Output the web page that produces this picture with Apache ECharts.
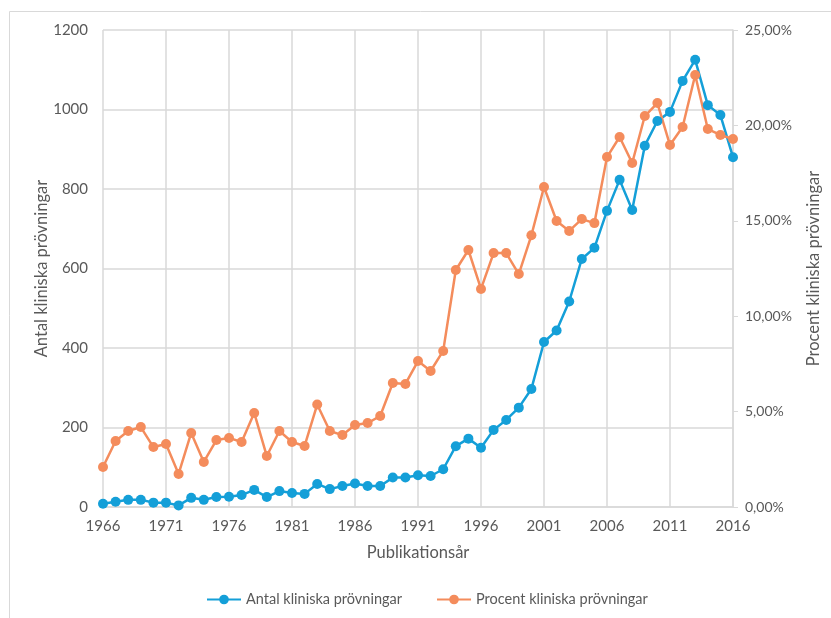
<!DOCTYPE html>
<html>
<head>
<meta charset="utf-8">
<script src="https://cdn.jsdelivr.net/npm/echarts@6/dist/echarts.min.js"></script>
<style>
  html, body { margin: 0; padding: 0; background: #fff; }
  #chart { width: 831px; height: 618px; }
</style>
</head>
<body>
<div id="chart"></div>
<script>
// årtal 1966-2016
var years = [];
for (var y = 1966; y <= 2016; y++) years.push(String(y));

var antal = [8, 13, 18, 18, 11, 11, 4, 23, 18, 25, 26, 30, 43, 25, 40, 35, 33, 58, 45, 53,
  59, 53, 53, 74, 74, 80, 78, 95, 153, 172, 149, 194, 219, 250, 297,
  415, 444, 517, 624, 652, 745, 823, 747, 909, 971, 994, 1072, 1125, 1011, 986, 880];

var procent = [2.10, 3.46, 3.98, 4.19, 3.14, 3.30, 1.73, 3.88, 2.36, 3.51, 3.62, 3.41, 4.93, 2.67, 3.98, 3.41, 3.20, 5.37, 3.98, 3.77,
  4.30, 4.40, 4.77, 6.50, 6.45, 7.65, 7.13, 8.18, 12.42, 13.47, 11.43, 13.31, 13.31, 12.21, 14.24,
  16.77, 14.99, 14.47, 15.09, 14.88, 18.34, 19.39, 18.03, 20.49, 21.17, 18.97, 19.92, 22.64, 19.81, 19.50, 19.29];

var grey = '#595959';
var blue = '#149fd8';
var orange = '#f48c5c';

var option = {
  animation: false,
  textStyle: { color: grey, fontFamily: 'Lato' },
  graphic: [{
    type: 'rect',
    shape: { x: 9.5, y: 11.5, width: 830, height: 620 },
    style: { fill: 'none', stroke: '#d9d9d9', lineWidth: 1 }
  }],
  grid: { left: 103, right: 98, top: 30, bottom: 111 },
  legend: {
    bottom: 6,
    left: 201,
    itemGap: 34,
    itemWidth: 34,
    itemHeight: 12,
    textStyle: { color: grey, fontFamily: 'Lato', fontSize: 14.5 },
    data: ['Antal kliniska prövningar', 'Procent kliniska prövningar']
  },
  xAxis: {
    type: 'category',
    data: years,
    boundaryGap: false,
    name: 'Publikationsår',
    nameLocation: 'middle',
    nameGap: 37,
    nameTextStyle: { color: grey, fontFamily: 'Lato', fontSize: 16.5 },
    axisLine: { lineStyle: { color: '#d9d9d9', width: 1.5 } },
    axisTick: { show: false },
    axisLabel: { interval: 4, color: grey, fontFamily: 'Lato', fontSize: 15, margin: 12 },
    splitLine: { show: true, interval: 4, lineStyle: { color: '#d9d9d9', width: 1.5 } }
  },
  yAxis: [{
    type: 'value',
    min: 0, max: 1200, interval: 200,
    name: 'Antal kliniska prövningar',
    nameLocation: 'middle',
    nameGap: 61,
    nameMoveOverlap: false,
    nameTextStyle: { color: grey, fontFamily: 'Lato', fontSize: 16.5, verticalAlign: 'middle' },
    axisLine: { show: false },
    axisTick: { show: false },
    axisLabel: {
      color: grey, fontFamily: 'Lato', fontSize: 15, margin: 15,
      formatter: function (v) { return String(v); }
    },
    splitLine: { lineStyle: { color: '#d9d9d9', width: 1.5 } }
  }, {
    type: 'value',
    min: 0, max: 25, interval: 5,
    position: 'right',
    name: 'Procent kliniska prövningar',
    nameLocation: 'middle',
    nameGap: 72,
    nameTextStyle: { color: grey, fontFamily: 'Lato', fontSize: 16.5 },
    axisLine: { show: true, lineStyle: { color: '#d9d9d9', width: 1.5 } },
    axisTick: { show: true, length: 5, lineStyle: { color: '#d9d9d9' } },
    axisLabel: {
      color: grey, fontFamily: 'Lato', fontSize: 14, margin: 12,
      formatter: function (v) { return v.toFixed(2).replace('.', ',') + '%'; }
    },
    splitLine: { show: false }
  }],
  series: [{
    name: 'Antal kliniska prövningar',
    type: 'line',
    data: antal,
    yAxisIndex: 0,
    symbol: 'circle',
    symbolSize: 10,
    showAllSymbol: true,
    lineStyle: { color: blue, width: 2.5 },
    itemStyle: { color: blue }
  }, {
    name: 'Procent kliniska prövningar',
    type: 'line',
    data: procent,
    yAxisIndex: 1,
    symbol: 'circle',
    symbolSize: 10,
    showAllSymbol: true,
    lineStyle: { color: orange, width: 2.5 },
    itemStyle: { color: orange }
  }]
};

var chart = echarts.init(document.getElementById('chart'));
chart.setOption(option);
</script>
</body>
</html>
